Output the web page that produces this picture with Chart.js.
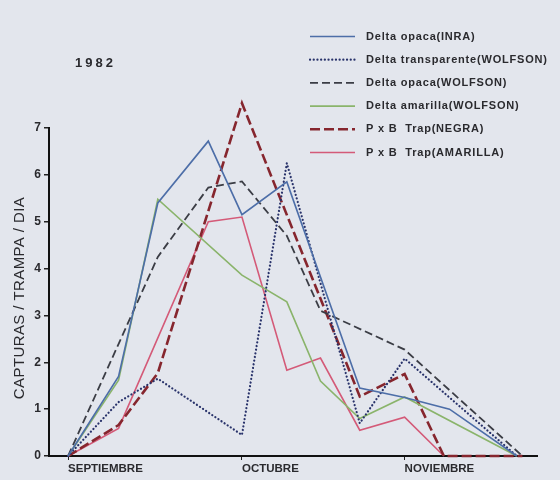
<!DOCTYPE html>
<html>
<head>
<meta charset="utf-8">
<script src="https://cdn.jsdelivr.net/npm/chart.js@4.4.1/dist/chart.umd.min.js"></script>
<style>
  html, body { margin: 0; padding: 0; background: #e3e6ed; }
  #wrap { width: 560px; height: 480px; position: relative; }
</style>
</head>
<body>
<div id="wrap"><canvas id="grafico"></canvas></div>
<script>
// days counted from the SEPTIEMBRE mark
const dias = [0, 9, 16, 25, 31, 39, 45, 52, 60, 67, 68, 80, 81];
const meses = ['SEPTIEMBRE', 'OCTUBRE', 'NOVIEMBRE'];
const diasMes = [0, 31, 60];
const anio = '1982';
const tituloY = 'CAPTURAS / TRAMPA / DIA';

const opacaInra        = [0, 1.7, 5.4, 6.72, 5.15, 5.85, null, 1.45, 1.25, null, 1.0, 0, null];
const transparenteWolf = [0, 1.15, 1.65, null, 0.45, 6.25, null, 0.7, 2.08, null, null, 0, null];
const opacaWolf        = [0, null, 4.25, 5.73, 5.86, 4.7, 3.1, null, 2.27, null, null, null, 0];
const amarillaWolf     = [0, 1.62, 5.48, null, 3.86, 3.29, 1.6, 0.8, 1.26, null, null, 0, null];
const trapNegra        = [0, 0.66, 1.77, null, 7.53, null, null, 1.27, 1.75, 0, null, null, 0];
const trapAmarilla     = [0, 0.59, null, 5.0, 5.1, 1.83, 2.09, 0.55, 0.83, 0, null, null, null];

const etiquetas = [
  'Delta opaca(INRA)',
  'Delta transparente(WOLFSON)',
  'Delta opaca(WOLFSON)',
  'Delta amarilla(WOLFSON)',
  'P x B  Trap(NEGRA)',
  'P x B  Trap(AMARILLA)'
];

const pares = arr => dias.map((d, i) => ({ x: d, y: arr[i] }));

const serie = (label, arr, color, width, dash, cap) => ({
  label, data: pares(arr),
  borderColor: color, borderWidth: width, borderDash: dash,
  borderCapStyle: cap || 'butt',
  pointRadius: 0, tension: 0, spanGaps: true, fill: false, clip: false
});

const fuente = 'Liberation Sans, Arial, sans-serif';

const decorado = {
  id: 'decorado',
  beforeDraw(chart) {
    const c = chart.ctx;
    c.save();
    c.fillStyle = '#e3e6ed';
    c.fillRect(0, 0, chart.width, chart.height);
    c.restore();
  },
  afterDraw(chart) {
    const c = chart.ctx;
    c.save();
    c.fillStyle = '#2a2a2e';
    c.textBaseline = 'middle';

    // axis title
    c.save();
    c.translate(20, 298);
    c.rotate(-Math.PI / 2);
    c.textAlign = 'center';
    c.font = '15px ' + fuente;
    c.letterSpacing = '0.4px';
    c.fillText(tituloY, 0, 0);
    c.restore();

    c.font = 'bold 13px ' + fuente;
    c.letterSpacing = '3px';
    c.fillText(anio, 75, 63);

    c.letterSpacing = '0.8px';
    c.font = 'bold 11px ' + fuente;
    chart.data.datasets.forEach((ds, i) => {
      const y = 36.5 + i * 23.2;
      c.strokeStyle = ds.borderColor;
      c.lineWidth = ds.borderWidth;
      c.lineCap = ds.borderCapStyle;
      c.setLineDash(ds.borderDash || []);
      c.beginPath();
      c.moveTo(310, y);
      c.lineTo(355, y);
      c.stroke();
      c.fillText(ds.label, 366, y);
    });
    c.restore();
  }
};

new Chart(document.getElementById('grafico'), {
  type: 'line',
  data: {
    datasets: [
      serie(etiquetas[0], opacaInra, '#4d6ea8', 1.6, []),
      serie(etiquetas[1], transparenteWolf, '#28326a', 2.2, [0.1, 3.6], 'round'),
      serie(etiquetas[2], opacaWolf, '#3b3d45', 1.8, [8, 4]),
      serie(etiquetas[3], amarillaWolf, '#8ab46b', 1.6, []),
      serie(etiquetas[4], trapNegra, '#86262e', 2.6, [10, 4]),
      serie(etiquetas[5], trapAmarilla, '#d45a78', 1.6, [])
    ]
  },
  options: {
    responsive: true,
    maintainAspectRatio: false,
    animation: false,
    layout: { padding: { top: 128, right: 23, left: 0, bottom: 0 } },
    plugins: { legend: { display: false }, tooltip: { enabled: false }, title: { display: false } },
    scales: {
      x: {
        type: 'linear', min: -3.4, max: 83.6,
        afterBuildTicks: s => { s.ticks = diasMes.map(v => ({ value: v })); },
        afterFit: s => { s.height = 24; },
        ticks: {
          callback: v => meses[diasMes.indexOf(v)],
          align: 'start', maxRotation: 0, autoSkip: false, padding: 2,
          color: '#2a2a2e', font: { family: fuente, size: 11.5, weight: 'bold' }
        },
        grid: { drawOnChartArea: false, tickLength: 4, color: '#222' },
        border: { color: '#111', width: 2 }
      },
      y: {
        min: 0, max: 7,
        afterFit: s => { s.width = 49; },
        ticks: {
          stepSize: 1, padding: 3,
          color: '#2a2a2e', font: { family: fuente, size: 12, weight: 'bold' }
        },
        grid: { drawOnChartArea: false, tickLength: 5, color: '#222', lineWidth: 1.5 },
        border: { color: '#111', width: 2 }
      }
    }
  },
  plugins: [decorado]
});
</script>
</body>
</html>
